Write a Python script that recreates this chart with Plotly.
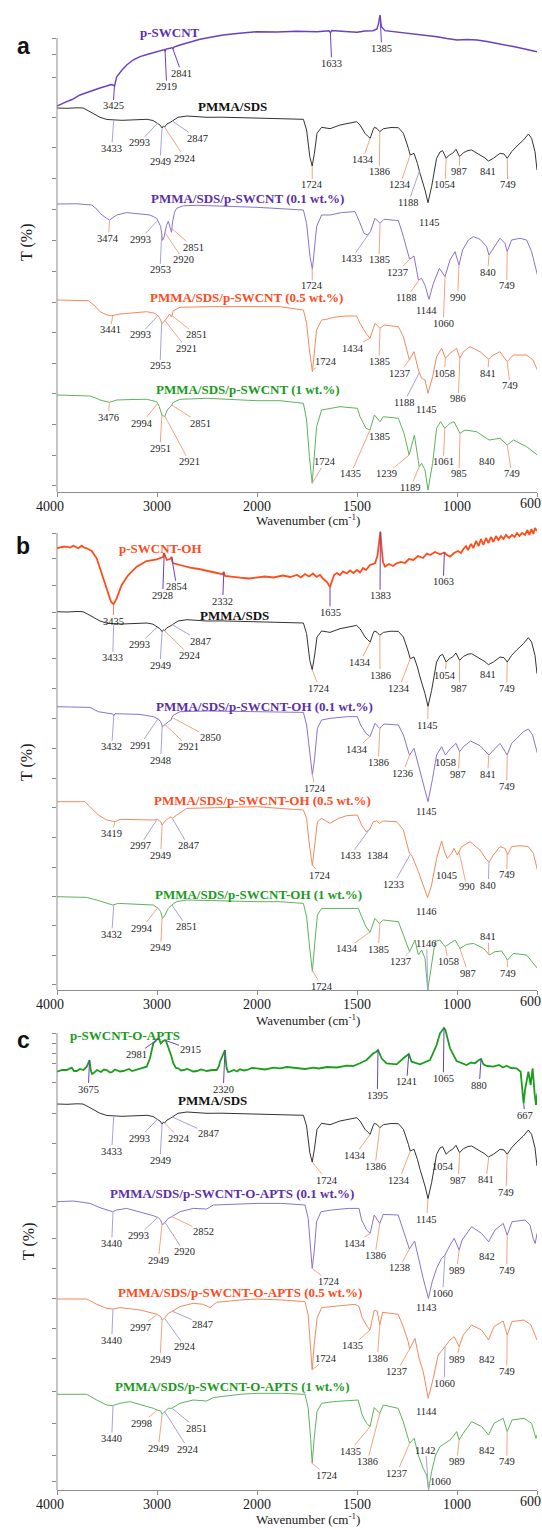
import numpy as np
import plotly.graph_objects as go

FIG_W, FIG_H = 542, 1528
PLOT_L, PLOT_R = 57, 537          # px: left / right edge of the plotting area
U_MAX = 2400.0                    # internal x units (4000-2000 at half scale, 2000-600 full scale)

TICK_WN = [4000, 3000, 2000, 1500, 1000, 600]
TICK_TEXT = ["4000", "3000", "2000", "1500", "1000", "600"]

# ---------------------------------------------------------------------------
# Spectra: (wavenumber cm-1, depth below the spectrum's own 4000 cm-1 level, T units)
# ---------------------------------------------------------------------------
PMMA_SDS = [(4000,0),(3900,0.3),(3800,-0.2),(3740,0),(3670,3.7),(3570,9.3),(3500,11.5),(3433,12),(3350,12.3),
    (3270,12),(3180,11.6),(3100,11.3),(3040,12.5),(3020,13.7),(2993,15),(2970,17),(2949,20),(2935,18),(2924,19),
    (2900,16),(2870,14.5),(2847,13),(2830,11.5),(2790,9.3),(2700,8),(2600,8.6),(2500,9.3),(2350,9.2),(2170,9.7),
    (2050,9.8),(1918,10.3),(1830,10.5),(1768,11.3),(1752,22),(1736,48.7),(1724,58),(1713,45.3),(1700,25.3),
    (1677,19.3),(1655,20),(1635,20.7),(1585,17),(1540,15.5),(1502,13.7),(1485,17),(1460,25.3),(1447,28),(1434,30.3),
    (1420,22),(1413,19.3),(1400,20.5),(1386,23.7),(1368,20.7),(1330,19.5),(1293,19.7),(1268,25.3),(1243,40.3),
    (1234,47),(1215,45.3),(1198,55.3),(1185,65.3),(1160,82),(1145,94.7),(1127,78.7),(1102,50.3),(1085,44),
    (1072,42.7),(1054,50.3),(1038,47),(1022,45.3),(1005,41.3),(987,48.7),(968,44.7),(945,42.5),(927,42),(885,47),
    (860,50),(843,53),(818,50.3),(785,45.3),(765,46),(749,50.3),(727,43.7),(700,38),(668,32),(643,26),(627,30.3),
    (610,43.7),(600,62)]

P_SWCNT = [(4000,0),(3960,-1.5),(3903,-4.3),(3850,-6.5),(3770,-11),(3700,-13.5),(3637,-16),(3570,-18),(3503,-20),
    (3460,-21.5),(3440,-21),(3425,-20),(3415,-24),(3403,-29.3),(3350,-36),(3303,-41),(3240,-46),(3170,-49.3),
    (3100,-51.5),(3037,-53.3),(2980,-54.5),(2937,-56),(2925,-56.5),(2919,-54.5),(2910,-57),(2870,-57.7),(2850,-58.5),
    (2841,-57),(2830,-59),(2770,-61),(2670,-64),(2570,-66.7),(2450,-69),(2337,-71),(2200,-72.5),(2003,-74.3),
    (1900,-74),(1800,-74.8),(1700,-74.3),(1660,-75),(1640,-75.3),(1633,-73.2),(1626,-75.5),(1560,-74.5),(1500,-73.7),
    (1460,-75),(1420,-75.3),(1400,-77),(1392,-82.7),(1385,-91),(1378,-79.3),(1360,-75.3),(1300,-74),(1250,-72.7),
    (1180,-71),(1100,-69.3),(1050,-67.5),(1000,-66),(950,-66.5),(900,-66),(850,-64.5),(800,-62.7),(750,-61),
    (700,-58.7),(650,-56.5),(600,-54.3)]

A_01 = [(4000,0.7),(3800,0.5),(3653,1.7),(3600,6),(3570,10),(3520,14),(3474,16.7),(3440,14),(3403,11.7),(3303,9.3),
    (3200,10.5),(3070,11.7),(3003,15),(2963,23.3),(2945,37),(2930,34),(2905,22),(2887,18),(2870,24),(2855,29),
    (2843,18),(2825,9),(2803,5),(2737,2.5),(2600,2),(2500,2.5),(2300,3),(2000,4),(1885,5),(1768,6.7),(1752,20),
    (1735,53.3),(1723,66),(1712,46.7),(1702,23.3),(1677,11.7),(1635,11.7),(1577,9.3),(1510,8.3),(1488,18.3),
    (1465,30),(1448,31.7),(1433,28.3),(1410,15),(1385,20),(1365,16),(1293,17.3),(1268,33.3),(1237,56),(1215,52.7),
    (1193,76.7),(1177,75),(1160,82),(1140,96),(1118,80),(1088,65),(1060,73.3),(1035,56.7),(1010,48.3),(990,61.7),
    (972,46.7),(943,36.7),(918,33.3),(885,36),(852,43.3),(840,51.7),(818,45),(785,35),(760,40),(749,48.3),
    (727,36.7),(685,35),(652,36.7),(627,48.3),(598,71.7)]

A_05 = [(4000,0),(3687,0.7),(3620,6),(3570,11.7),(3500,15),(3453,15.7),(3370,14),(3200,12.5),(3103,11.7),(3020,13.3),
    (2977,17.3),(2950,23.3),(2930,21.7),(2903,18.3),(2875,14),(2855,17),(2837,10.7),(2770,7.3),(2600,6.5),(2500,6.7),
    (2200,6.6),(2000,6.7),(1885,6.7),(1768,10),(1752,23.3),(1738,50),(1723,71.7),(1712,50),(1702,30),(1677,20),
    (1652,19.3),(1618,17.3),(1552,16),(1502,16),(1485,23.3),(1455,33.3),(1435,38.3),(1410,23.3),(1385,28.3),
    (1365,25),(1293,26.7),(1268,36.7),(1238,60),(1215,51.7),(1193,70),(1177,78.3),(1160,80),(1145,93.3),(1122,76.7),
    (1102,56.7),(1077,48.3),(1058,58.3),(1035,53.3),(1002,48.3),(986,58.3),(968,51.7),(935,46.7),(885,51.7),
    (841,59.3),(818,55),(785,51.7),(749,61.7),(718,55),(652,55),(620,60),(598,70)]

A_1 = [(4000,0),(3670,1),(3600,3.5),(3570,5),(3476,7.3),(3403,5),(3250,4.5),(3103,4.3),(3003,6.7),(2977,11.7),
    (2951,20),(2923,21.7),(2897,15),(2863,11.7),(2851,10),(2843,7.7),(2770,4.3),(2500,3.3),(2200,4.5),(2000,5.7),
    (1885,5.7),(1768,8.3),(1752,25),(1738,61.7),(1724,88.3),(1712,61.7),(1702,31.7),(1677,15),(1635,13.3),
    (1585,11.7),(1498,13.3),(1485,21.7),(1455,33.3),(1435,35),(1413,20),(1385,26.7),(1368,21.7),(1293,23.3),
    (1265,38.3),(1239,60),(1213,40),(1189,71.7),(1177,68.3),(1160,75),(1145,95),(1122,68.3),(1102,33.3),(1082,26.7),
    (1061,33.3),(1035,28.3),(1015,26.7),(985,38.3),(960,35),(902,36.7),(840,45),(785,43.3),(749,50),(718,45),
    (652,51.7),(598,60)]

P_SWCNT_OH = [(4000,0.3),(3950,-1),(3903,-1.3),(3870,-0.5),(3837,-2.3),(3810,-1),(3787,0.3),(3753,-2.3),(3730,-0.5),
    (3703,0.3),(3653,3),(3603,10.3),(3553,25.3),(3503,42),(3460,53.7),(3435,56.3),(3403,50.3),(3353,37),(3287,27),
    (3203,18.7),(3103,13),(3003,11.3),(2960,10),(2940,9),(2928,5),(2915,10),(2903,12),(2870,11),(2854,9),(2845,14),
    (2837,15.3),(2750,17.5),(2670,19.7),(2580,21),(2503,23),(2400,25),(2345,26.3),(2332,24),(2320,28),(2250,29),
    (2170,29.7),(2080,30.5),(2003,29.7),(1960,28.5),(1918,29.5),(1870,27.5),(1835,29),(1800,27),(1780,29.5),
    (1760,26),(1740,28.5),(1720,25.5),(1702,29),(1685,27),(1668,31),(1650,34),(1635,39),(1625,33),(1615,27),
    (1600,25),(1585,27),(1570,23.5),(1552,25.5),(1535,22.5),(1518,25),(1500,22),(1485,24.5),(1470,20),(1455,22),
    (1435,17),(1410,15.3),(1398,8),(1390,-6),(1383,-16.3),(1377,0),(1370,14),(1360,18.7),(1340,16),(1320,18),
    (1302,15.3),(1280,14),(1260,15),(1240,11),(1218,12),(1195,8),(1170,10),(1150,5.5),(1135,7),(1110,4),(1085,6.3),
    (1063,4.5),(1050,7),(1035,8.7),(1015,5),(995,3),(980,5),(968,1),(955,-2),(945,2),(930,-4),(918,0),(905,-7),
    (892,-2),(880,-9),(868,-3),(855,-10),(843,-5),(830,-11),(818,-6),(805,-12),(793,-8),(780,-12),(768,-9),
    (755,-13),(740,-10),(725,-13),(712,-11),(700,-15),(688,-12),(675,-15),(660,-13),(648,-18),(638,-13),(628,-19),
    (618,-14),(610,-20),(600,-17)]

B_01 = [(4000,0),(3670,0.7),(3587,5),(3503,6.7),(3443,7.3),(3432,9),(3420,7),(3170,7.7),(3037,10),(2987,12.3),
    (2963,15),(2945,20),(2920,17.7),(2887,15),(2860,13.3),(2843,9),(2770,5),(2500,4.3),(2000,5),(1885,5),(1768,5.7),
    (1752,18.3),(1735,51.7),(1723,68.3),(1712,51.7),(1698,21.7),(1677,13.3),(1635,11.7),(1552,10),(1498,10),
    (1482,18.3),(1455,26.7),(1435,30),(1410,16.7),(1386,21.7),(1365,17.3),(1293,18.3),(1268,28.3),(1238,48.3),
    (1215,41.7),(1193,58.3),(1168,76.7),(1145,95),(1122,71.7),(1102,48.3),(1077,40),(1058,48.3),(1032,41.7),
    (1005,36.7),(987,45),(968,40),(932,34.3),(885,39),(841,48.3),(818,43.3),(785,36.7),(749,48.3),(727,36.7),
    (668,25),(643,22.3),(622,28.3),(598,46.7)]

B_05 = [(4000,0),(3720,0),(3670,5),(3587,13.3),(3503,18.3),(3419,20),(3370,17.7),(3170,18.3),(3020,18.3),(2997,17.3),
    (2963,20),(2949,23.3),(2920,19.3),(2887,16.7),(2860,15),(2847,16.7),(2803,13.3),(2703,6.7),(2500,6),(2000,5),
    (1885,6.7),(1768,8.3),(1752,16.7),(1738,43.3),(1723,64),(1712,43.3),(1698,20),(1677,16.7),(1635,21.7),
    (1593,16.7),(1552,14),(1498,13.3),(1477,23.3),(1455,30),(1438,28.3),(1418,20),(1402,19.3),(1388,21.7),
    (1370,19.3),(1302,20),(1268,28.3),(1238,51.7),(1227,53.3),(1193,70),(1168,83.3),(1147,96),(1127,83.3),
    (1102,56.7),(1077,39.3),(1060,51.7),(1048,56.7),(1027,51.7),(1015,46.7),(998,53.3),(977,45),(935,40),(885,48.3),
    (852,58.3),(838,60),(818,53.3),(785,45),(760,46.7),(747,53.3),(727,45),(685,44),(643,45),(618,51.7),(598,68.3)]

B_1 = [(4000,0),(3703,0.7),(3603,3.3),(3503,6.7),(3443,8.3),(3387,6.7),(3170,7.7),(3037,8.3),(2987,11.7),(2963,15),
    (2945,21.7),(2920,18.3),(2887,11.7),(2853,8.3),(2803,5),(2700,3.3),(2000,5),(1885,5),(1768,6.7),(1752,20),
    (1738,48.3),(1723,75),(1712,48.3),(1698,18.3),(1677,11.7),(1635,11.7),(1552,11),(1493,11.7),(1477,20),
    (1455,30),(1435,35.6),(1410,21.7),(1388,26.7),(1368,23.3),(1293,25),(1260,41.7),(1237,55),(1210,43.3),
    (1193,58.3),(1177,53.3),(1160,61.7),(1146,93.3),(1127,68.3),(1110,45),(1085,43.3),(1060,50),(1035,46.7),
    (1010,43.3),(985,51.7),(952,47.7),(918,46.7),(868,51.7),(838,58.3),(810,55),(777,54.3),(747,63.3),(718,56.7),
    (652,58.3),(598,71.7)]

P_SWCNT_O_APTS = [(4000,-0.3),(3950,-2),(3903,-2),(3870,-3.5),(3853,-4.3),(3830,-1),(3803,-1),(3770,-3),(3737,-2),
    (3715,-4),(3703,-5.3),(3690,-8),(3680,-11),(3675,-12),(3668,-6),(3663,-2),(3650,2),(3637,1.3),(3600,-2),
    (3560,0),(3530,-2.5),(3503,-2),(3470,0.5),(3450,0),(3420,-2.5),(3400,-2),(3370,-0.5),(3337,-1),(3300,-2.5),
    (3280,-3),(3250,-1),(3220,-2),(3170,-3),(3120,-5),(3103,-5.3),(3070,-13.7),(3037,-28.7),(3015,-31),(2997,-33),
    (2981,-33.5),(2963,-28.7),(2940,-31),(2920,-32),(2910,-31),(2887,-25.3),(2860,-17),(2837,-8.7),(2810,-4),
    (2787,-3.7),(2760,-1.5),(2730,-2),(2700,-3),(2670,-2),(2640,-0.5),(2600,-1),(2560,-2.5),(2503,-1),(2450,-2),
    (2403,-2),(2380,-6),(2370,-10.3),(2350,-15),(2330,-20),(2320,-22),(2315,-14),(2303,-3.7),(2290,0),(2270,-0.3),
    (2230,-2),(2200,-0.5),(2170,-2.7),(2130,-1.5),(2100,-2),(2050,-4),(2003,-3.7),(1960,-2.5),(1918,-4.3),
    (1885,-3.7),(1850,-5),(1800,-4),(1760,-3),(1718,-4.3),(1690,-3.5),(1650,-5),(1600,-4.5),(1552,-6.3),(1520,-6),
    (1485,-8.7),(1452,-12),(1418,-18.7),(1405,-20),(1395,-22),(1385,-17),(1377,-13.7),(1352,-8.7),(1302,-7.7),
    (1268,-13.7),(1252,-16.3),(1241,-18),(1227,-10.3),(1185,-7.7),(1135,-12),(1102,-27),(1085,-38.7),(1072,-43),
    (1065,-44),(1058,-42),(1052,-37),(1035,-23.7),(1002,-11),(980,-9),(952,-7),(930,-9.5),(910,-8.7),(890,-12),
    (880,-13),(868,-7.7),(850,-6),(818,-5.3),(790,-7),(770,-4.5),(752,-6.3),(730,-4),(702,-3.7),(682,-0.3),
    (672,19.7),(667,31.3),(660,18),(655,11.3),(643,-0.3),(632,13),(622,-3.7),(612,21.3),(605,33),(598,21.3)]

C_01 = [(4000,0),(3837,-0.7),(3670,1.7),(3570,6),(3443,10),(3403,8.3),(3303,6.7),(3170,10),(3037,14),(2987,16),
    (2963,18.3),(2945,23.3),(2920,20.7),(2887,16.7),(2853,15),(2770,10),(2637,6.7),(2503,7.3),(2437,3.3),(2170,2.3),
    (2000,1.7),(1877,1.7),(1760,3.3),(1744,16.7),(1732,50),(1724,66.7),(1714,50),(1702,20),(1680,10),(1627,8.3),
    (1544,6.7),(1490,6.7),(1477,18.3),(1452,28.3),(1434,31.7),(1414,13.3),(1386,21.7),(1369,12.7),(1294,13.3),
    (1269,28.3),(1246,43.3),(1238,47.3),(1212,39.3),(1190,60),(1169,76.7),(1143,96.7),(1124,80),(1102,66.7),
    (1077,56.7),(1060,53.3),(1035,43.3),(1014,36.7),(989,48.3),(975,38.3),(927,25),(877,31.7),(842,40),(810,28.3),
    (769,21.7),(749,33.3),(725,20),(660,18.3),(635,23.3),(619,36.7),(609,41.7),(600,31.7)]

C_05 = [(4000,0.7),(3703,0.7),(3603,6),(3503,10),(3440,10.7),(3370,9.3),(3170,11.7),(3053,15),(2997,16),(2963,18.3),
    (2949,21.7),(2924,20),(2887,15),(2853,13.3),(2770,8.3),(2637,5),(2537,6),(2470,9.3),(2403,4),(2170,1.7),
    (2000,0.7),(1877,1.7),(1760,3.3),(1744,16.7),(1732,46.7),(1724,71.7),(1714,46.7),(1700,20),(1677,9.3),
    (1617,8.3),(1510,6),(1490,8.3),(1474,19.3),(1452,27.3),(1435,31.7),(1414,12),(1399,12.7),(1386,26.7),(1372,14),
    (1294,16),(1269,28.3),(1244,43.3),(1237,50.7),(1210,40),(1190,60),(1169,73.3),(1144,100),(1119,80),(1094,56.7),
    (1060,48.3),(1035,41.7),(1014,38.3),(989,48.3),(969,36.7),(927,26.7),(877,31.7),(842,41.7),(815,28.3),
    (769,22.7),(749,36.7),(725,23.3),(665,21.7),(630,26.7),(600,41.7)]

C_1 = [(4000,1),(3703,1),(3603,6.7),(3503,11.7),(3443,12.3),(3370,10),(3270,8.3),(3137,11.7),(3037,15),(2998,16.7),
    (2963,17.7),(2949,21),(2924,18.3),(2887,15),(2853,15),(2770,10),(2637,6.7),(2503,7.7),(2437,4.3),(2170,1),
    (2000,0),(1877,0),(1760,1),(1744,15),(1732,45),(1724,70),(1714,45),(1700,18.3),(1677,10),(1617,8.3),(1494,6.7),
    (1474,21.7),(1452,30),(1435,33.3),(1414,14.3),(1386,20),(1369,11.7),(1294,15),(1269,28.3),(1244,46.7),(1237,50),
    (1214,45),(1194,61.7),(1169,75),(1152,81.7),(1142,96.7),(1127,78.3),(1107,61.7),(1085,53.3),(1060,50),
    (1035,46.7),(1014,41.7),(1002,38.3),(989,46.7),(969,40),(927,28.3),(877,33.3),(842,41.7),(815,30),(769,25),
    (749,38.3),(725,26.7),(665,25),(627,30),(605,45),(600,41.7)]

# ---------------------------------------------------------------------------
# Peak labels: (wavenumber, label centre x px, label centre y px, leader colour key)
# ---------------------------------------------------------------------------
PEAKS_A_TOP = [(3425,113,106,"p"),(2919,166.7,86.7,"p"),(2841,181.7,73.3,"p"),(1633,331.7,63.3,"p"),(1385,381.7,48.3,"p")]
PEAKS_A_PMMA = [(3433,111.7,148.3,"l"),(2993,139.3,142.7,"l"),(2949,160,161.7,"l"),(2924,185,158.3,"o"),
    (2847,197.3,138.3,"l"),(1724,312.3,185,"o"),(1434,362.7,159.3,"o"),(1386,379.3,171.7,"o"),(1234,400,185,"o"),
    (1188,408.3,202.7,"l"),(1145,429.3,222.7,None),(1054,445,185,"o"),(987,459.3,171.7,"o"),(841,487.7,171.7,None),
    (749,507.7,185,"o")]
PEAKS_A_01 = [(3474,108.3,238.3,"o"),(2993,140,239.3,"l"),(2953,160,270,"l"),(2920,183.3,260,"o"),(2851,193.3,247.3,"o"),
    (1724,312.3,286,"o"),(1433,351.7,258.3,"l"),(1385,379,260,"o"),(1237,397.3,272.3,"o"),(1188,406.7,297.7,"o"),
    (1144,426.7,310.7,None),(1060,443.3,323.3,"o"),(990,457.7,297.7,"o"),(840,487.7,272.3,"o"),(749,506.7,286,"o")]
PEAKS_A_05 = [(3441,110,330,"o"),(2993,140,335,"l"),(2953,160,366,"l"),(2921,186.7,348.3,"o"),(2851,196.7,335,"o"),
    (1724,326,361.7,"o"),(1434,353.3,348.3,"o"),(1385,379,361.7,"o"),(1237,399,373.3,"o"),(1188,404,402.3,"l"),
    (1145,426.7,410,None),(1058,444.3,373.3,"o"),(986,458.3,399,"o"),(841,487.7,373.3,"o"),(749,510,386,"o")]
PEAKS_A_1 = [(3476,108.3,417.3,"o"),(2994,141.7,423.3,"o"),(2951,160,448.3,"o"),(2921,189.3,461.7,"o"),(2851,200,423.3,"o"),
    (1724,325,461.7,"o"),(1435,350.7,474,"o"),(1385,379.3,436.7,None),(1239,386,474,"o"),(1189,410.7,487.3,"o"),
    (1061,443.3,461.7,"o"),(985,459,474,"o"),(840,487.3,461.7,None),(749,511.7,474,"o")]

PEAKS_B_TOP = [(3435,113.3,621,"r"),(2928,162.7,595,"p"),(2854,176.7,586.7,"p"),(2332,222.7,601,"p"),(1635,330,612.3,"p"),
    (1383,380,595.7,"p"),(1063,443.3,581.7,"p")]
PEAKS_B_PMMA = [(3433,112.7,657.7,"l"),(2993,139.3,644.3,"l"),(2949,160,665,"l"),(2924,190,655.7,"o"),(2847,200,641,"l"),
    (1724,319.3,688.3,"o"),(1434,360,662.3,"o"),(1386,380,675,"o"),(1234,399,688.3,"o"),(1145,427.7,725,"o"),
    (1054,445,675,"o"),(987,459.3,688.3,"o"),(841,487.7,675,None),(749,506.7,688.3,"o")]
PEAKS_B_01 = [(3432,111.7,746.7,"l"),(2991,140,745,"l"),(2948,160.7,760,"l"),(2921,188.3,746.7,"o"),(2850,210,737.7,"o"),
    (1724,315,788.3,"o"),(1434,356.7,749,"o"),(1386,378.3,762.3,"o"),(1236,402.7,773.3,"o"),(1145,426.7,811.7,None),
    (1058,445,762.3,None),(987,458.3,774.3,"o"),(841,487.7,774.3,"o"),(749,506.7,786.7,"o")]
PEAKS_B_05 = [(3419,111.7,833.3,"o"),(2997,140,845.7,"l"),(2949,160.7,855,"o"),(2847,188.3,845.7,"l"),(1724,320,875,"o"),
    (1433,350,855.7,"l"),(1384,378.3,855.7,None),(1233,393.3,884.3,"l"),(1146,426.7,911.7,None),(1045,446.7,875,None),
    (990,466.7,886.7,"o"),(840,488.3,885,"l"),(749,506.7,875,"o")]
PEAKS_B_1 = [(3432,111.7,934.3,"l"),(2994,141.7,928.3,"o"),(2949,160.7,947.7,"o"),(2851,186.7,926.7,"l"),(1724,321.7,986.7,"o"),
    (1434,346.7,949,"o"),(1385,378.3,949,"o"),(1237,400,961.7,"o"),(1146,426.7,943.3,"l"),(1058,448.3,961.7,"o"),
    (987,468.3,973.3,"o"),(841,488.3,936.7,"o"),(749,507.7,973.3,"o")]

PEAKS_C_TOP = [(3675,88.3,1089,"p"),(2981,136.7,1054.3,"p"),(2915,190,1049,"p"),(2320,223.3,1089,"p"),(1395,377.3,1095,"p"),
    (1241,406.7,1081.7,"p"),(1065,443.3,1078.3,"p"),(880,479.3,1085,"p"),(667,525,1115,"p")]
PEAKS_C_PMMA = [(3433,111.7,1151,"l"),(2993,139.3,1138.3,"l"),(2949,160,1160,"l"),(2924,179.3,1138.3,"o"),(2847,208.3,1133.3,"l"),
    (1724,326.7,1180,"o"),(1434,355,1155,"o"),(1386,375,1166.7,"o"),(1234,399.3,1180,"o"),(1145,426.7,1219,"o"),
    (1054,443.3,1166.7,None),(987,458.3,1180,"o"),(841,486,1180,"o"),(749,506,1192.3,"o")]
PEAKS_C_01 = [(3440,111.7,1243.3,"l"),(2993,138.3,1235.7,"l"),(2949,158.3,1260,"o"),(2920,184,1251.7,"l"),(2852,203.3,1231.7,"o"),
    (1724,329.3,1281.7,"o"),(1434,355,1243.3,"o"),(1386,375,1255.7,"o"),(1238,399.3,1267.7,"o"),(1143,426,1307.7,None),
    (1060,442.7,1293.3,"l"),(989,456.7,1270,"o"),(842,486.7,1256.7,None),(749,506.7,1270,"o")]
PEAKS_C_05 = [(3440,111.7,1340,"l"),(2997,140,1327.7,"o"),(2949,160,1359.3,"o"),(2924,185,1346.7,"l"),(2847,202.7,1324.3,"l"),
    (1724,326,1358.3,"o"),(1435,352.7,1345.7,"o"),(1386,377.3,1358.3,"o"),(1237,396.7,1371.7,"o"),(1144,426.7,1411.7,None),
    (1060,444.3,1383.3,"l"),(989,456.7,1359.3,"o"),(842,486.7,1359.3,None),(749,506.7,1371.7,"o")]
PEAKS_C_1 = [(3440,111.7,1438.3,"l"),(2998,141.7,1423.3,"o"),(2949,158.3,1448.3,"o"),(2924,188.3,1449,"l"),(2851,196.7,1428.3,"l"),
    (1724,326.7,1475.7,"o"),(1435,350,1451,"o"),(1386,367.3,1461.7,"o"),(1237,396.7,1473.3,"o"),(1142,425.7,1450,"l"),
    (1060,440,1481.7,None),(989,456.7,1461.7,"o"),(842,486.7,1450,None),(749,506.7,1461.7,"o")]

# ---------------------------------------------------------------------------
SERIF = "Liberation Serif"
SANS = "Liberation Sans"
BLK_LINE, BLK_TXT = "#333333", "#111111"
PUR_LINE, PUR_TXT = "#8a72cf", "#5b2fa8"
ORG_LINE, ORG_TXT = "#f28a5e", "#ff4a1c"
GRN_LINE, GRN_TXT = "#5db35d", "#1b9a1b"
LEAD = {"o": "#f4a57e", "l": "#a7a4d6", "p": "#6b3fc4", "r": "#f27a6a", None: "rgba(0,0,0,0)"}
AXIS_C = "#8c8c8c"
TICK_FONT = dict(family=SERIF, size=14, color="#1a1a1a")


def xpos(w):
    w = np.asarray(w, dtype=float)
    return np.where(w >= 2000, (4000.0 - w) / 2.0, 3000.0 - w)


PANELS = [
    dict(letter="a", xa="x", ya="y", top=8, axis_top=38, bottom=492, title_y=520, letter_y=46, t_xy=(27, 243),
         ytick_px=[38, 54, 77, 117, 147, 178, 209, 240, 271, 302, 332, 363, 393, 424, 455, 485],
         series=[
             (P_SWCNT, 386, "#6a3fc2", 1.4, "p-SWCNT", "#5b2fb0", (170, 32), PEAKS_A_TOP),
             (PMMA_SDS, 384, BLK_LINE, 1.0, "PMMA/SDS", BLK_TXT, (232, 107), PEAKS_A_PMMA),
             (A_01, 288.7, PUR_LINE, 1.0, "PMMA/SDS/p-SWCNT (0.1 wt.%)", PUR_TXT, (247, 198), PEAKS_A_01),
             (A_05, 192, ORG_LINE, 1.0, "PMMA/SDS/p-SWCNT (0.5 wt.%)", ORG_TXT, (246, 297), PEAKS_A_05),
             (A_1, 97, GRN_LINE, 1.0, "PMMA/SDS/p-SWCNT (1 wt.%)", GRN_TXT, (248, 390), PEAKS_A_1),
         ]),
    dict(letter="b", xa="x2", ya="y2", top=515, axis_top=533, bottom=990, title_y=1020, letter_y=546, t_xy=(27, 763),
         ytick_px=[533, 558, 585, 612, 628, 658, 688, 718, 748, 778, 807, 837, 867, 896, 925, 955, 984],
         series=[
             (P_SWCNT_OH, 442, "#ff4d1a", 1.8, "p-SWCNT-OH", ORG_TXT, (160, 548), PEAKS_B_TOP),
             (PMMA_SDS, 378.3, BLK_LINE, 1.0, "PMMA/SDS", BLK_TXT, (234, 615), PEAKS_B_PMMA),
             (B_01, 283.3, PUR_LINE, 1.0, "PMMA/SDS/p-SWCNT-OH (0.1 wt.%)", PUR_TXT, (264, 706), PEAKS_B_01),
             (B_05, 188.3, ORG_LINE, 1.0, "PMMA/SDS/p-SWCNT-OH (0.5 wt.%)", ORG_TXT, (262, 800), PEAKS_B_05),
             (B_1, 93.3, GRN_LINE, 1.0, "PMMA/SDS/p-SWCNT-OH (1 wt.%)", GRN_TXT, (258, 894), PEAKS_B_1),
         ]),
    dict(letter="c", xa="x3", ya="y3", top=1018, axis_top=1033, bottom=1490, title_y=1519, letter_y=1040, t_xy=(29, 1242),
         ytick_px=[1033, 1043, 1053, 1063, 1082, 1113, 1143, 1173, 1206, 1238, 1268, 1298, 1328, 1358, 1391, 1423, 1455, 1481],
         series=[
             (P_SWCNT_O_APTS, 418, "#1c9e1c", 1.8, "p-SWCNT-O-APTS", GRN_TXT, (125, 1035), PEAKS_C_TOP),
             (PMMA_SDS, 386, BLK_LINE, 1.0, "PMMA/SDS", BLK_TXT, (212, 1100), PEAKS_C_PMMA),
             (C_01, 288.3, PUR_LINE, 1.0, "PMMA/SDS/p-SWCNT-O-APTS (0.1 wt.%)", PUR_TXT, (232, 1193), PEAKS_C_01),
             (C_05, 191.7, ORG_LINE, 1.0, "PMMA/SDS/p-SWCNT-O-APTS (0.5 wt.%)", ORG_TXT, (240, 1292), PEAKS_C_05),
             (C_1, 96.7, GRN_LINE, 1.0, "PMMA/SDS/p-SWCNT-O-APTS (1 wt.%)", GRN_TXT, (232, 1386), PEAKS_C_1),
         ]),
]

fig = go.Figure()
annotations, shapes, layout_axes = [], [], {}
# first label nudged left like the original; last label drawn inside the page edge (see below)
tick_display = [TICK_TEXT[0] + "\u00a0" * 4] + TICK_TEXT[1:-1] + [""]


def paper_x(px):
    return px / FIG_W


def paper_y(py):
    return 1.0 - py / FIG_H


for i, P in enumerate(PANELS):
    suffix = "" if i == 0 else str(i + 1)
    h_units = P["bottom"] - P["top"]
    layout_axes["xaxis" + suffix] = dict(
        domain=[paper_x(PLOT_L), paper_x(PLOT_R)], range=[0, U_MAX], anchor=P["ya"],
        tickmode="array", tickvals=list(xpos(TICK_WN)), ticktext=tick_display,
        showline=True, linecolor=AXIS_C, linewidth=1, ticks="outside", ticklen=4, tickcolor=AXIS_C,
        ticklabelstandoff=-3, automargin=False,
        showgrid=False, zeroline=False, tickfont=TICK_FONT, fixedrange=True)
    layout_axes["yaxis" + suffix] = dict(
        domain=[paper_y(P["bottom"]), paper_y(P["top"])], range=[0, h_units], anchor=P["xa"],
        tickmode="array", tickvals=[P["bottom"] - y for y in P["ytick_px"]], showticklabels=False,
        showline=False, ticks="outside", ticklen=4, tickcolor=AXIS_C, showgrid=False, zeroline=False,
        automargin=False, fixedrange=True)
    shapes.append(dict(type="line", xref="paper", yref="paper", x0=paper_x(PLOT_L), x1=paper_x(PLOT_L),
                       y0=paper_y(P["axis_top"]), y1=paper_y(P["bottom"]),
                       line=dict(color=AXIS_C, width=1)))
    # right-most tick label (600), kept inside the page like in the original
    annotations.append(dict(text=TICK_TEXT[-1], x=paper_x(530), y=paper_y(P["bottom"] + 11.5),
                            xref="paper", yref="paper", showarrow=False, xanchor="center", yanchor="middle",
                            font=TICK_FONT))

    for data, base, lcolor, lwidth, name, tcolor, (lx, ly), peaks in P["series"]:
        wn = np.array([p[0] for p in data], dtype=float)
        d = np.array([p[1] for p in data], dtype=float)
        u = xpos(wn)
        T = base - d
        order = np.argsort(u, kind="stable")
        u, T = u[order], T[order]
        fig.add_trace(go.Scatter(x=u, y=T, mode="lines", line=dict(color=lcolor, width=lwidth),
                                 xaxis=P["xa"], yaxis=P["ya"], hoverinfo="skip", showlegend=False, name=name))
        annotations.append(dict(text="<b>" + name + "</b>", x=paper_x(lx), y=paper_y(ly), xref="paper", yref="paper",
                                showarrow=False, xanchor="center", yanchor="middle",
                                font=dict(family=SERIF, size=13, color=tcolor)))
        for pw, px_, py_, ck in peaks:
            ux = float(xpos(pw))
            ty = float(np.interp(ux, u, T))
            ax_px = PLOT_L + (PLOT_R - PLOT_L) * ux / U_MAX
            ay_px = P["bottom"] - ty
            annotations.append(dict(
                x=ux, y=ty, xref=P["xa"], yref=P["ya"], text=str(pw), showarrow=True, arrowhead=0,
                arrowwidth=1, arrowcolor=LEAD[ck], standoff=0, startstandoff=0,
                ax=px_ - ax_px, ay=py_ - ay_px, borderpad=0,
                font=dict(family=SERIF, size=10.5, color="#1f1f1f")))

    annotations.append(dict(text="Wavenumber (cm<sup>-1</sup>)", x=paper_x(308), y=paper_y(P["title_y"]),
                            xref="paper", yref="paper", showarrow=False, xanchor="center", yanchor="middle",
                            font=dict(family=SERIF, size=13, color="#1a1a1a")))
    annotations.append(dict(text="<b>" + P["letter"] + "</b>", x=paper_x(23), y=paper_y(P["letter_y"]),
                            xref="paper", yref="paper", showarrow=False, xanchor="center", yanchor="middle",
                            font=dict(family=SANS, size=23, color="#111111")))
    annotations.append(dict(text="T (%)", x=paper_x(P["t_xy"][0]), y=paper_y(P["t_xy"][1]), textangle=-90,
                            xref="paper", yref="paper", showarrow=False, xanchor="center", yanchor="middle",
                            font=dict(family=SERIF, size=16, color="#1a1a1a")))

fig.update_layout(width=FIG_W, height=FIG_H, margin=dict(l=0, r=0, t=0, b=0, autoexpand=False),
                  paper_bgcolor="white", plot_bgcolor="white", showlegend=False,
                  annotations=annotations, shapes=shapes, hovermode=False, **layout_axes)

fig.write_html("out.html", config={"displayModeBar": False, "staticPlot": True})
